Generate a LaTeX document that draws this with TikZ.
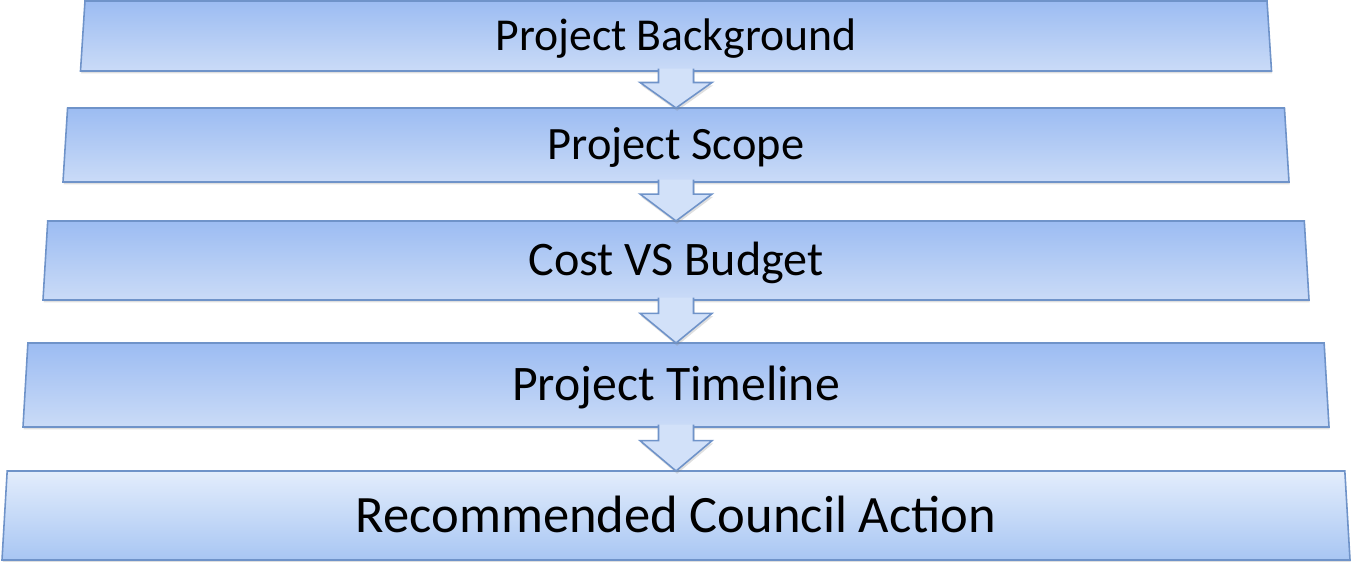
\documentclass[tikz,border=0pt]{standalone}
\usepackage{fontspec}
\setmainfont{Carlito}
\usetikzlibrary{shapes.geometric,calc,shadows}

\definecolor{boxline}{HTML}{6F93C9}
\definecolor{boxtop}{HTML}{9CBCF2}
\definecolor{boxbot}{HTML}{CADBF7}
\definecolor{lasttop}{HTML}{E3EDFC}
\definecolor{lastbot}{HTML}{A8C6F3}
\definecolor{arrowfill}{HTML}{D2E1F9}

\tikzset{
  stage/.style={trapezium, trapezium angle=81.3, trapezium stretches body,
    draw=boxline, line width=0.9pt, inner sep=0pt, outer sep=0pt,
    top color=boxtop, bottom color=boxbot, text=black, text depth=0pt,
    drop shadow={shadow xshift=0.4pt, shadow yshift=-1.4pt, opacity=0.25}},
  flowarrow/.style={draw=boxline, line width=0.9pt, fill=arrowfill, line join=miter,
    drop shadow={shadow xshift=0.6pt, shadow yshift=-1.6pt, opacity=0.25}}
}

\begin{document}
\begin{tikzpicture}[x=0.2mm, y=-0.2mm]
  \useasboundingbox (0,0) rectangle (1352,562);

  \node[stage, minimum width=238.2mm, minimum height=14mm, text height=16.7pt,
        font=\fontsize{26}{30}\selectfont] (bg) at (676,36) {Project Background};
  \node[stage, minimum width=245.2mm, minimum height=14.8mm, text height=17pt,
        font=\fontsize{26.4}{30}\selectfont] (scope) at (676,145) {Project Scope};
  \node[stage, minimum width=253.2mm, minimum height=15.8mm, text height=17.6pt,
        font=\fontsize{27.4}{32}\selectfont] (cost) at (676,260.5) {Cost VS Budget};
  \node[stage, minimum width=261.2mm, minimum height=16.8mm, text height=18.2pt,
        font=\fontsize{28.3}{33}\selectfont] (time) at (676,385) {Project Timeline};
  \node[stage, top color=lasttop, bottom color=lastbot,
        minimum width=269.6mm, minimum height=17.8mm, text height=19.3pt,
        font=\fontsize{29.9}{35}\selectfont] (action) at (676,515.5) {Recommended Council Action};

  % block arrows between the stages
  \foreach \a/\b in {bg/scope, scope/cost, cost/time, time/action}
    \draw[flowarrow]
      ($(\a.south)+(-17.5,-2.5)$)
      -- ($(\a.south)!0.31!(\b.north)+(-17.5,0)$)
      -- ($(\a.south)!0.31!(\b.north)+(-36,0)$)
      -- (\b.north)
      -- ($(\a.south)!0.31!(\b.north)+(36,0)$)
      -- ($(\a.south)!0.31!(\b.north)+(17.5,0)$)
      -- ($(\a.south)+(17.5,-2.5)$);
\end{tikzpicture}
\end{document}
